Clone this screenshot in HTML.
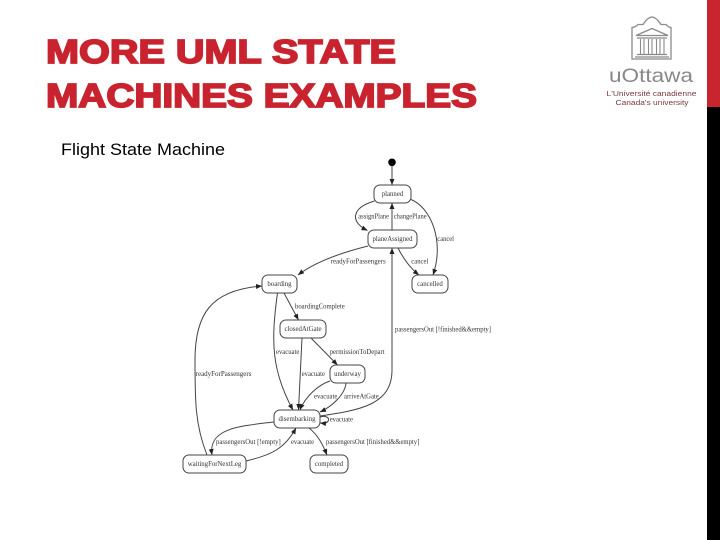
<!DOCTYPE html>
<html>
<head>
<meta charset="utf-8">
<style>
html,body{margin:0;padding:0;background:#fff;}
body{width:720px;height:540px;overflow:hidden;position:relative;}
svg{position:absolute;left:0;top:0;}
.e{fill:none;stroke:#444;stroke-width:1;marker-end:url(#a);}
.n{fill:#fff;stroke:#444;stroke-width:1;}
.l{font-family:"Liberation Serif",serif;font-size:6.8px;fill:#333;}
.c{font-family:"Liberation Serif",serif;font-size:6.8px;fill:#333;text-anchor:middle;}
</style>
</head>
<body>
<svg width="720" height="540" viewBox="0 0 720 540" xmlns="http://www.w3.org/2000/svg">
<defs>
<marker id="a" markerUnits="userSpaceOnUse" markerWidth="7" markerHeight="6" refX="6" refY="2.5" orient="auto">
<path d="M0 0L6 2.5L0 5Z" fill="#222"/>
</marker>
<filter id="b" x="-5%" y="-5%" width="110%" height="110%"><feGaussianBlur stdDeviation="0.35"/></filter>
</defs>

<rect x="707" y="0" width="13" height="107" fill="#c9252f"/>
<rect x="707" y="107" width="13" height="433" fill="#000"/>

<g font-family="'Liberation Sans',sans-serif" font-weight="700" font-size="33" fill="#c8232e" stroke="#c8232e" stroke-width="1.7">
<text x="46" y="63" textLength="350" lengthAdjust="spacingAndGlyphs">MORE UML STATE</text>
<text x="46" y="107" textLength="431" lengthAdjust="spacingAndGlyphs">MACHINES EXAMPLES</text>
</g>
<text x="61" y="155" font-family="'Liberation Sans',sans-serif" font-size="16.5" fill="#000" textLength="164" lengthAdjust="spacingAndGlyphs">Flight State Machine</text>

<!-- logo -->
<g fill="none" stroke="#8a8a8a" stroke-width="1.3">
<path d="M632 59V27.5Q636 27 638 24.500L643 24.500Q648 17 652 17Q656 17 661 24.500L666 24.500Q668 27 671 27.500V59Z"/>
<path d="M636 35.500L652 28.500L668 35.500Z"/>
<path d="M637 38H667M637 54.500H667M635 57H669"/>
<path d="M640.500 39V54M644 39V54M648.500 39V54M652 39V54M656.500 39V54M660 39V54M664 39V54" stroke-width="1.1"/>
</g>
<text x="651" y="82" text-anchor="middle" font-family="'Liberation Sans',sans-serif" font-size="19.500" fill="#888" textLength="84" lengthAdjust="spacingAndGlyphs">uOttawa</text>
<text x="651.500" y="96" text-anchor="middle" font-family="'Liberation Sans',sans-serif" font-size="7.600" fill="#7a3a40" textLength="90" lengthAdjust="spacingAndGlyphs">L'Université canadienne</text>
<text x="652" y="105" text-anchor="middle" font-family="'Liberation Sans',sans-serif" font-size="7.600" fill="#7a3a40" textLength="73" lengthAdjust="spacingAndGlyphs">Canada's university</text>

<g filter="url(#b)">
<circle cx="392" cy="162.300" r="3.800" fill="#000"/>

<path class="e" d="M392 166V185"/>
<path class="e" d="M374.500 201C351 208 350 222 367.500 230.500"/>
<path class="e" d="M392 230V203"/>
<path class="e" d="M411 199.500C430 207 445 240 433 275"/>
<path class="e" d="M398 248C403 258 410 268 419 275"/>
<path class="e" d="M368 246C340 253 315 262 298 275"/>
<path class="e" d="M284 293L298.500 320"/>
<path class="e" d="M277.500 293C271 340 271 370 293 410"/>
<path class="e" d="M302 338L298.500 410"/>
<path class="e" d="M311 338L337.500 365"/>
<path class="e" d="M330 381C318 385 305 397 300 410"/>
<path class="e" d="M346 383C345 395 331 407 320 412"/>
<path class="e" d="M320 416C360 410 392 405 392 370V248"/>
<path class="e" d="M320 417C326 415 329 418 328.500 420C328 423 325 423.500 320 423"/>
<path class="e" d="M274 422C240 426 208 428 212 455"/>
<path class="e" d="M246 461C272 455 285 448 296 428"/>
<path class="e" d="M309 428C318 435 323 445 327 455"/>
<path class="e" d="M207 455C195 425 195 400 195 360C195 315 210 290 262 286"/>

<rect class="n" x="374" y="185" width="37" height="18" rx="6"/>
<rect class="n" x="368" y="230" width="49" height="18" rx="6"/>
<rect class="n" x="262" y="275" width="35" height="18" rx="6"/>
<rect class="n" x="412" y="275" width="36" height="18" rx="6"/>
<rect class="n" x="280" y="320" width="46" height="18" rx="6"/>
<rect class="n" x="330" y="365" width="35" height="18" rx="6"/>
<rect class="n" x="274" y="410" width="46" height="18" rx="6"/>
<rect class="n" x="183" y="455" width="63" height="18" rx="6"/>
<rect class="n" x="310" y="455" width="38" height="18" rx="6"/>

<text class="c" x="392.500" y="196">planned</text>
<text class="c" x="392.500" y="241">planeAssigned</text>
<text class="c" x="279.500" y="286">boarding</text>
<text class="c" x="430" y="286">cancelled</text>
<text class="c" x="303" y="331">closedAtGate</text>
<text class="c" x="347.500" y="376">underway</text>
<text class="c" x="297" y="421">disembarking</text>
<text class="c" x="214.500" y="466">waitingForNextLeg</text>
<text class="c" x="329" y="466">completed</text>

<text class="l" x="358.300" y="218.700" textLength="30.700" lengthAdjust="spacingAndGlyphs">assignPlane</text>
<text class="l" x="393.700" y="218.700" textLength="33" lengthAdjust="spacingAndGlyphs">changePlane</text>
<text class="l" x="437.300" y="241" textLength="16.700" lengthAdjust="spacingAndGlyphs">cancel</text>
<text class="l" x="411.300" y="263.700" textLength="17" lengthAdjust="spacingAndGlyphs">cancel</text>
<text class="l" x="330.700" y="263.700" textLength="55" lengthAdjust="spacingAndGlyphs">readyForPassengers</text>
<text class="l" x="295" y="308.700" textLength="49.700" lengthAdjust="spacingAndGlyphs">boardingComplete</text>
<text class="l" x="395" y="331.300" textLength="96" lengthAdjust="spacingAndGlyphs">passengersOut [!finished&amp;&amp;empty]</text>
<text class="l" x="276" y="354" textLength="23.300" lengthAdjust="spacingAndGlyphs">evacuate</text>
<text class="l" x="329.700" y="354" textLength="55" lengthAdjust="spacingAndGlyphs">permissionToDepart</text>
<text class="l" x="195.700" y="376" textLength="55.700" lengthAdjust="spacingAndGlyphs">readyForPassengers</text>
<text class="l" x="301.700" y="376" textLength="23.300" lengthAdjust="spacingAndGlyphs">evacuate</text>
<text class="l" x="314" y="398.700" textLength="23.300" lengthAdjust="spacingAndGlyphs">evacuate</text>
<text class="l" x="344" y="398.700" textLength="34.700" lengthAdjust="spacingAndGlyphs">arriveAtGate</text>
<text class="l" x="329.700" y="421.300" textLength="23.300" lengthAdjust="spacingAndGlyphs">evacuate</text>
<text class="l" x="216" y="444" textLength="64.700" lengthAdjust="spacingAndGlyphs">passengersOut [!empty]</text>
<text class="l" x="291" y="444" textLength="23" lengthAdjust="spacingAndGlyphs">evacuate</text>
<text class="l" x="326" y="444" textLength="93.300" lengthAdjust="spacingAndGlyphs">passengersOut [finished&amp;&amp;empty]</text>
</g>
</svg>
</body>
</html>
